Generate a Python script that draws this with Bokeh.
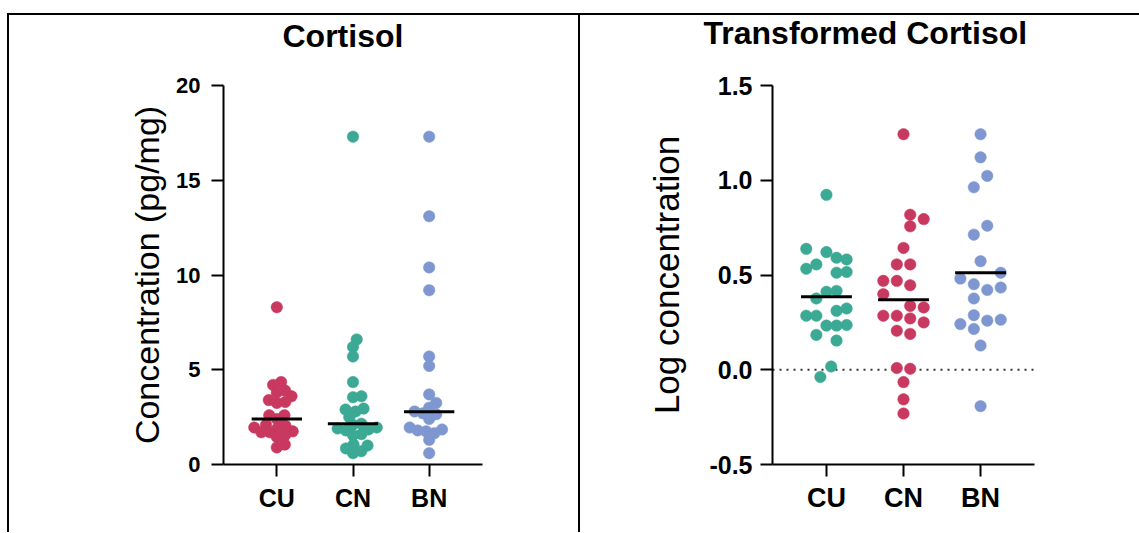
import math
from bokeh.plotting import figure
from bokeh.layouts import row, column
from bokeh.models import Range1d, FixedTicker, Span, Spacer, PrintfTickFormatter, Title
from bokeh.embed import file_html
from bokeh.resources import INLINE

# ---------------- data ----------------
groups = ["CU", "CN", "BN"]

# Cortisol (pg/mg)
raw_cu = [8.3, 4.35, 4.2, 3.9, 3.8, 3.4, 3.6, 3.25, 3.3, 2.6, 2.6, 2.4, 1.95, 1.9,
          2.05, 2.1, 1.7, 1.7, 1.75, 1.55, 1.45, 1.05, 0.9]
raw_cn = [17.3, 6.6, 6.2, 5.7, 4.35, 3.6, 3.55, 2.95, 2.9, 2.8, 2.5, 2.15, 2.1, 1.95,
          1.9, 1.85, 1.8, 1.6, 1.55, 1.05, 1.0, 0.85, 0.7, 0.6]
raw_bn = [17.3, 13.1, 10.4, 9.2, 5.7, 5.2, 3.7, 3.25, 3.0, 2.8, 2.65, 2.7, 2.4, 1.95,
          1.8, 1.85, 1.75, 1.65, 1.3, 0.6]
raw_lines = [2.4, 2.15, 2.78]

# Log concentration
log_cu = [0.923, 0.638, 0.621, 0.591, 0.582, 0.533, 0.556, 0.512, 0.516, 0.411, 0.416,
          0.376, 0.285, 0.285, 0.311, 0.323, 0.233, 0.233, 0.236, 0.184, 0.154, 0.017, -0.038]
log_cn = [1.243, 0.818, 0.795, 0.757, 0.643, 0.556, 0.556, 0.469, 0.469, 0.446, 0.399,
          0.337, 0.329, 0.285, 0.285, 0.271, 0.250, 0.206, 0.189, 0.009, 0.005, -0.065,
          -0.156, -0.231]
log_bn = [1.243, 1.121, 1.023, 0.963, 0.760, 0.713, 0.573, 0.512, 0.481, 0.451, 0.421,
          0.434, 0.376, 0.288, 0.259, 0.264, 0.241, 0.215, 0.128, -0.192]
log_lines = [0.385, 0.369, 0.512]

# horizontal scatter offsets of the log panel (category units, as read)
jit_cu = [0, -0.262, 0, 0.131, 0.262, -0.262, -0.131, 0.131, 0.262, 0, 0.131, -0.131,
          -0.262, -0.131, 0.131, 0.262, 0, 0.131, 0.262, -0.131, 0.131, 0.061, -0.079]
jit_cn = [0, 0.087, 0.262, 0.087, 0, -0.087, 0.087, -0.262, -0.087, 0.087, -0.262, 0.087,
          0.262, -0.262, -0.087, 0.087, 0.262, -0.087, 0.087, -0.087, 0.087, 0, 0, 0]
jit_bn = [0, 0, 0.087, -0.087, 0.087, -0.087, 0, 0.262, -0.262, -0.087, 0.087, 0.262,
          -0.087, -0.087, 0.087, 0.262, -0.262, -0.087, 0, 0]

left_yticks = [0, 5, 10, 15, 20]
right_yticks = [-0.5, 0.0, 0.5, 1.0, 1.5]

RED = "#C8385F"
TEAL = "#3BA993"
BLUE = "#7F97D0"
FONT = "Liberation Sans"


def swarm(vals, d_px, y_ppu, x_ppc):
    order = sorted(range(len(vals)), key=lambda i: vals[i])
    placed = []
    offs = [0.0] * len(vals)
    for i in order:
        y = vals[i] * y_ppu
        cands = [0.0]
        for (px, py) in placed:
            dy = abs(y - py)
            if dy < d_px:
                dx = math.sqrt(d_px ** 2 - dy ** 2)
                cands += [px + dx, px - dx]
        cands.sort(key=abs)
        chosen = 0.0
        for c in cands:
            if all((c - px) ** 2 + (y - py) ** 2 >= d_px ** 2 - 1e-6 for px, py in placed):
                chosen = c
                break
        placed.append((chosen, y))
        offs[i] = chosen / x_ppc
    return offs


def style(p, ylabel, yticks, tick_size, cat_size, lab_size, fmt=None):
    p.outline_line_color = None
    p.xgrid.grid_line_color = None
    p.ygrid.grid_line_color = None
    p.xaxis.ticker = FixedTicker(ticks=[0, 1, 2])
    p.xaxis.major_label_overrides = {i: g for i, g in enumerate(groups)}
    p.yaxis.ticker = FixedTicker(ticks=yticks)
    if fmt:
        p.yaxis.formatter = PrintfTickFormatter(format=fmt)
    p.yaxis.axis_label = ylabel
    for ax in (p.xaxis[0], p.yaxis[0]):
        ax.axis_line_width = 2
        ax.axis_line_color = "black"
        ax.major_tick_line_width = 2
        ax.major_tick_line_color = "black"
        ax.major_tick_out = 12
        ax.major_tick_in = 0
        ax.minor_tick_line_color = None
        ax.major_label_text_font = FONT
        ax.major_label_text_font_style = "bold"
        ax.major_label_text_color = "black"
        ax.major_label_standoff = 8
        ax.axis_label_text_font = FONT
        ax.axis_label_text_font_style = "normal"
        ax.axis_label_text_font_size = lab_size
        ax.axis_label_text_color = "black"
    p.yaxis.major_label_text_font_size = tick_size
    p.xaxis.major_label_text_font_size = cat_size


def add_title(p, text, offset, gap):
    # blank spacer title next to the frame, visible title above it
    p.add_layout(Title(text=" ", text_font_size="10px", text_color="white", standoff=gap),
                 "above")
    p.add_layout(Title(text=text, align="left", offset=offset, text_font=FONT,
                       text_font_size="32px", text_font_style="bold", text_color="black",
                       standoff=-10), "above")


# ---------------- left panel ----------------
p1 = figure(width=569, height=517, output_backend="svg", toolbar_location=None,
            title_location=None,
            x_range=Range1d(-0.7, 2.7), y_range=Range1d(0, 20),
            min_border_left=214, min_border_right=96, min_border_top=67, min_border_bottom=68)
style(p1, "Concentration (pg/mg)", left_yticks, "22px", "25px", "34px")
p1.xaxis.major_label_standoff = 7
p1.yaxis.major_label_standoff = 11
p1.yaxis.axis_label_standoff = 7
add_title(p1, "Cortisol", 59, 24)

for k, (vals, col) in enumerate([(raw_cu, RED), (raw_cn, TEAL), (raw_bn, BLUE)]):
    offs = swarm(vals, 8.5, 19.1, 76.2)
    p1.scatter([k + o for o in offs], vals, size=11.5, fill_color=col, line_color=col,
               line_width=0.5)
p1.segment(x0=[k - 0.33 for k in range(3)], x1=[k + 0.33 for k in range(3)],
           y0=raw_lines, y1=raw_lines, line_width=3, line_color="black")

# ---------------- right panel ----------------
p2 = figure(width=559, height=517, output_backend="svg", toolbar_location=None,
            title_location=None,
            x_range=Range1d(-0.7, 2.7), y_range=Range1d(-0.5, 1.5),
            min_border_left=192, min_border_right=105, min_border_top=70, min_border_bottom=65)
style(p2, "Log concentration", right_yticks, "25px", "27px", "35px", "%.1f")
p2.xaxis.major_label_standoff = 6
p2.yaxis.axis_label_standoff = 20
add_title(p2, "Transformed Cortisol", -69, 27)

p2.add_layout(Span(location=0, dimension="width", line_dash="2 5", line_width=2,
                   line_color="#333333", level="underlay"))
for k, (vals, jit, col) in enumerate([(log_cu, jit_cu, TEAL), (log_cn, jit_cn, RED),
                                       (log_bn, jit_bn, BLUE)]):
    p2.scatter([k + j for j in jit], vals, size=11.5, fill_color=col, line_color=col,
               line_width=0.5)
p2.segment(x0=[k - 0.33 for k in range(3)], x1=[k + 0.33 for k in range(3)],
           y0=log_lines, y1=log_lines, line_width=3, line_color="black")


def bar(w, h):
    return Spacer(width=w, height=h, styles={"background-color": "black"})


layout = column(
    Spacer(width=1139, height=13),
    row(Spacer(width=7, height=2), bar(1132, 2)),
    row(Spacer(width=7, height=517), bar(2, 517), p1, bar(2, 517), p2),
)

open("out.html", "w").write(file_html(layout, INLINE))
